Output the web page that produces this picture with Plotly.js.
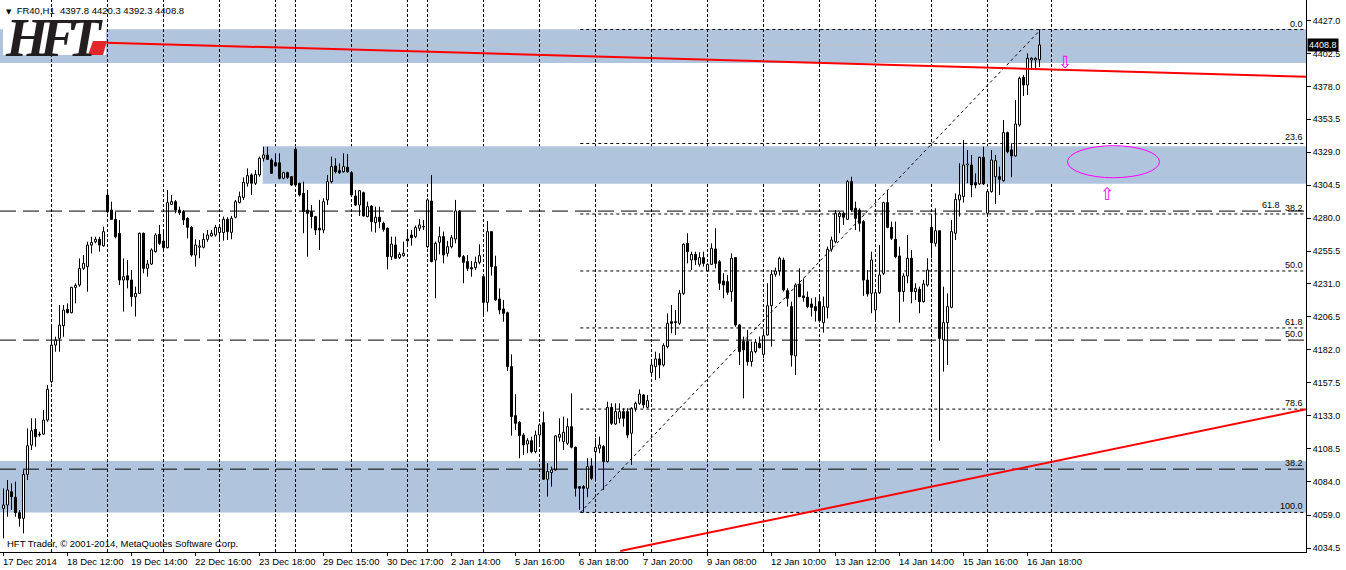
<!DOCTYPE html>
<html><head><meta charset="utf-8">
<script src="https://cdn.plot.ly/plotly-3.0.1.min.js"></script>
<style>html,body{margin:0;padding:0;background:#fff;overflow:hidden}#chart{width:1346px;height:570px}</style>
</head><body><div id="chart"></div>
<script>
// ---------- DATA (FR40, H1) ----------
const symbol = "FR40,H1";
const open = [
4064.0,4066.5,4076.4,4072.2,4060.8,4056.6,4089.3,4111.1,4122.8,4119.3,
4119.3,4129.7,4158.3,4185.5,4190.5,4199.9,4212.1,4209.6,4228.4,4230.2,
4242.6,4243.8,4259.9,4262.4,4264.2,4259.4,4297.1,4286.0,4279.0,4268.6,
4233.9,4237.1,4233.9,4221.5,4224.0,4268.7,4242.6,4245.8,4255.0,4267.9,
4262.9,4258.0,4290.2,4292.2,4286.0,4284.8,4279.8,4273.1,4252.5,4258.3,
4258.3,4264.2,4266.7,4267.4,4269.2,4269.2,4279.1,4269.4,4280.6,4291.5,
4295.4,4305.9,4312.1,4305.9,4312.1,4324.5,4326.9,4323.2,4321.2,4321.2,
4309.6,4313.8,4310.8,4331.2,4305.9,4298.4,4286.0,4284.8,4281.1,4272.4,
4271.1,4293.5,4307.1,4318.8,4315.3,4314.5,4317.8,4313.8,4296.4,4289.7,
4298.9,4281.1,4289.0,4276.6,4280.6,4276.1,4272.4,4251.3,4260.0,4250.6,
4252.0,4264.4,4267.4,4266.2,4272.4,4273.4,4258.7,4292.7,4248.8,4262.0,
4266.2,4253.8,4258.7,4264.4,4285.3,4251.3,4247.6,4243.1,4243.1,4247.1,
4236.4,4217.3,4269.9,4243.9,4219.8,4212.4,4209.6,4169.5,4133.0,4128.0,
4118.6,4111.9,4114.4,4106.2,4118.6,4127.8,4085.7,4090.6,4092.6,4116.9,
4113.7,4112.4,4124.8,4109.5,4080.2,4080.2,4079.0,4095.6,4106.2,4108.7,
4110.0,4098.8,4139.2,4126.8,4131.0,4136.0,4136.0,4119.9,4138.5,4142.2,
4148.4,4139.2,4165.2,4169.5,4175.2,4170.7,4184.3,4202.9,4202.2,4201.7,
4224.0,4261.2,4248.8,4253.0,4245.6,4250.6,4240.6,4245.6,4257.0,4247.6,
4233.2,4232.7,4225.3,4250.6,4200.5,4188.1,4188.1,4173.2,4180.6,4186.8,
4178.6,4193.0,4214.8,4238.2,4240.6,4248.8,4226.0,4214.1,4177.4,4231.0,
4222.1,4221.1,4216.1,4214.1,4217.8,4202.2,4213.6,4256.8,4262.4,4281.1,
4283.6,4279.1,4307.1,4287.3,4286.0,4277.4,4233.9,4224.0,4211.6,4224.5,
4238.9,4291.5,4273.1,4264.2,4251.8,4225.3,4236.9,4250.1,4225.3,4227.0,
4217.8,4230.2,4273.1,4261.2,4270.6,4189.3,4202.2,4213.6,4268.7,4293.5,
4296.0,4319.5,4319.5,4306.4,4305.4,4325.2,4283.6,4299.7,4310.8,4310.8,
4307.8,4343.6,4330.7,4326.2,4349.3,4384.7,4379.0,4397.6,4397.6,4397.8];
const high = [
4078.9,4085.1,4082.6,4083.9,4062.8,4092.5,4123.5,4131.0,4131.0,4121.1,
4137.2,4155.8,4199.2,4191.7,4215.3,4215.3,4216.5,4228.9,4231.4,4250.0,
4252.5,4262.4,4266.1,4266.1,4266.1,4273.6,4300.0,4292.2,4284.7,4278.5,
4250.0,4248.8,4241.3,4229.0,4269.2,4269.2,4248.8,4257.5,4268.7,4274.9,
4271.1,4300.9,4297.2,4293.5,4288.5,4286.0,4280.6,4274.1,4264.2,4263.7,
4268.7,4271.1,4271.1,4274.9,4274.9,4281.1,4280.6,4281.6,4293.5,4299.7,
4310.3,4317.0,4313.3,4315.8,4325.7,4333.1,4333.1,4324.5,4328.2,4328.2,
4314.5,4314.5,4311.3,4333.1,4306.4,4307.1,4300.9,4289.7,4281.6,4293.5,
4294.7,4312.1,4325.7,4324.5,4320.7,4328.2,4327.7,4315.0,4300.9,4300.9,
4299.7,4292.2,4289.7,4288.5,4288.5,4277.3,4273.1,4266.2,4266.2,4254.5,
4262.5,4271.1,4271.1,4274.4,4279.3,4278.6,4294.7,4312.1,4262.5,4273.6,
4269.9,4263.0,4267.4,4293.5,4286.0,4252.5,4252.5,4248.1,4251.3,4260.5,
4237.7,4277.8,4270.4,4252.0,4227.7,4219.1,4210.4,4178.6,4148.9,4129.0,
4119.9,4116.2,4117.4,4121.9,4127.3,4136.0,4097.6,4095.1,4118.6,4131.0,
4132.3,4131.0,4149.6,4110.0,4080.2,4081.4,4101.3,4101.3,4116.2,4117.4,
4111.2,4143.4,4142.2,4142.2,4142.2,4138.5,4138.5,4139.2,4143.4,4152.6,
4149.1,4148.4,4173.2,4180.6,4179.4,4186.8,4209.1,4215.3,4211.6,4226.5,
4261.2,4268.7,4255.0,4255.0,4254.5,4255.0,4246.3,4261.2,4272.4,4248.8,
4238.9,4237.7,4253.8,4250.6,4201.0,4191.8,4196.7,4188.1,4190.0,4191.8,
4196.7,4231.5,4241.4,4243.1,4251.3,4250.6,4227.8,4217.8,4231.5,4242.6,
4235.2,4225.3,4220.3,4221.1,4221.6,4221.6,4258.8,4266.2,4286.0,4284.8,
4284.8,4308.3,4310.8,4292.2,4287.3,4278.6,4241.4,4255.0,4226.5,4260.0,
4292.2,4300.9,4277.4,4277.4,4258.8,4238.9,4267.4,4256.3,4231.5,4229.0,
4234.0,4250.1,4281.1,4287.3,4270.6,4229.0,4224.0,4278.6,4298.4,4320.8,
4338.1,4330.7,4327.0,4313.3,4325.7,4333.1,4300.9,4330.7,4327.0,4318.3,
4352.9,4344.3,4335.6,4367.9,4385.3,4386.5,4402.6,4399.6,4399.6,4420.3];
const low = [
4041.7,4057.8,4062.8,4057.8,4050.4,4045.4,4085.1,4107.4,4109.9,4117.3,
4118.6,4128.5,4157.0,4180.6,4180.6,4191.7,4209.1,4209.1,4216.5,4228.9,
4241.3,4225.2,4253.7,4261.2,4255.0,4258.7,4283.5,4278.5,4264.9,4230.2,
4210.4,4227.7,4214.1,4206.7,4223.5,4238.9,4236.4,4245.1,4254.3,4260.0,
4256.3,4257.5,4289.7,4283.5,4282.3,4274.9,4264.9,4251.3,4243.9,4250.1,
4257.5,4262.4,4266.2,4266.2,4263.7,4263.2,4263.7,4264.2,4279.8,4291.0,
4293.5,4303.4,4297.2,4304.6,4310.8,4322.0,4323.2,4312.8,4318.3,4308.8,
4308.8,4309.1,4303.9,4303.4,4296.0,4268.7,4251.3,4272.4,4267.4,4256.3,
4268.7,4289.7,4305.9,4313.3,4312.8,4313.8,4313.8,4296.4,4289.0,4281.6,
4281.1,4280.6,4269.9,4269.2,4272.4,4269.9,4241.9,4248.8,4249.6,4249.6,
4251.3,4260.0,4259.5,4265.0,4270.4,4271.1,4257.5,4247.1,4220.3,4253.0,
4246.3,4251.3,4257.5,4261.2,4250.6,4231.5,4240.6,4236.4,4241.4,4245.6,
4206.7,4210.4,4237.2,4218.3,4208.4,4202.9,4166.2,4118.1,4122.3,4101.3,
4103.7,4105.0,4105.0,4105.0,4110.0,4085.2,4072.8,4080.2,4092.1,4113.7,
4107.5,4111.2,4108.7,4072.8,4062.8,4061.0,4072.3,4085.2,4085.2,4105.0,
4077.7,4098.1,4126.1,4126.1,4127.3,4124.8,4116.2,4096.3,4136.0,4141.0,
4138.5,4138.5,4163.3,4159.5,4160.8,4169.5,4183.1,4194.3,4193.0,4200.5,
4222.8,4246.3,4241.4,4245.1,4243.9,4243.9,4240.1,4245.1,4242.6,4226.5,
4220.3,4222.8,4217.8,4199.2,4170.7,4145.9,4170.2,4169.5,4179.4,4183.1,
4175.7,4192.5,4184.3,4236.4,4237.2,4225.3,4214.1,4169.5,4163.3,4221.1,
4217.8,4212.9,4206.7,4203.0,4202.2,4194.8,4205.4,4255.0,4261.2,4268.7,
4274.9,4278.6,4284.8,4271.1,4269.9,4222.1,4221.6,4209.2,4203.7,4223.5,
4237.7,4272.4,4263.7,4250.1,4202.2,4217.8,4231.5,4216.6,4219.1,4209.2,
4217.1,4229.0,4250.1,4258.8,4114.4,4165.7,4170.7,4212.9,4263.7,4281.1,
4291.5,4305.9,4295.5,4302.2,4304.6,4304.6,4282.3,4298.9,4290.5,4297.2,
4307.1,4328.2,4310.3,4325.7,4348.0,4370.8,4371.6,4390.2,4390.7,4392.3];
const close = [
4066.5,4077.7,4072.7,4060.8,4056.6,4089.3,4110.6,4121.8,4117.3,4118.6,
4129.7,4152.6,4185.5,4189.3,4200.4,4211.6,4209.6,4228.4,4229.9,4242.6,
4246.3,4259.9,4261.9,4264.2,4259.9,4269.9,4284.7,4279.0,4266.1,4233.9,
4236.4,4233.9,4221.5,4224.0,4268.7,4242.6,4245.8,4256.3,4267.4,4261.2,
4258.0,4291.5,4292.2,4286.0,4284.0,4278.6,4273.1,4252.5,4260.0,4259.3,
4264.2,4267.4,4268.7,4273.1,4273.1,4279.1,4269.9,4279.8,4292.2,4295.9,
4306.6,4311.6,4305.9,4312.5,4324.5,4327.0,4323.7,4313.3,4318.8,4309.6,
4313.8,4310.3,4304.6,4304.6,4297.2,4284.8,4283.5,4281.1,4271.1,4271.1,
4292.2,4307.1,4318.3,4314.5,4313.8,4318.3,4314.5,4297.2,4289.7,4300.4,
4281.6,4288.5,4277.3,4280.6,4277.3,4271.6,4251.3,4260.7,4250.1,4253.0,
4253.8,4263.0,4265.4,4272.9,4274.9,4273.7,4293.5,4247.6,4261.2,4266.2,
4252.5,4258.7,4265.4,4285.3,4251.3,4247.1,4242.6,4242.1,4247.1,4252.0,
4217.3,4269.9,4243.9,4219.1,4211.6,4209.1,4169.5,4132.3,4127.3,4118.1,
4111.2,4114.4,4106.2,4118.6,4126.1,4085.7,4091.4,4092.6,4117.9,4119.1,
4120.6,4124.8,4109.5,4079.0,4079.0,4079.0,4095.1,4086.4,4109.5,4111.2,
4098.8,4139.2,4127.3,4136.0,4136.0,4131.0,4118.6,4138.5,4142.2,4149.1,
4141.0,4144.2,4170.7,4175.2,4170.7,4185.1,4201.7,4201.7,4203.0,4224.0,
4260.5,4255.0,4253.0,4248.8,4250.6,4246.3,4245.6,4257.5,4246.3,4231.5,
4230.2,4224.8,4250.1,4200.5,4180.6,4181.9,4173.2,4180.6,4187.6,4183.6,
4192.5,4214.8,4238.2,4240.6,4250.1,4226.5,4220.3,4178.1,4230.2,4221.6,
4220.8,4214.1,4213.6,4211.1,4203.7,4214.1,4256.8,4263.7,4283.6,4283.6,
4280.6,4307.1,4286.0,4279.8,4276.1,4233.9,4223.5,4248.8,4224.5,4237.7,
4291.5,4273.1,4265.0,4251.3,4225.3,4236.9,4250.1,4225.3,4227.8,4217.8,
4231.0,4241.4,4261.7,4270.6,4190.5,4202.2,4214.1,4269.9,4293.9,4297.2,
4319.5,4320.3,4304.6,4304.6,4325.2,4305.4,4299.7,4323.2,4322.7,4308.8,
4343.6,4329.4,4326.2,4350.0,4384.0,4379.0,4398.9,4398.9,4398.9,4408.8];

// time scale labels and the bar each one belongs to
const timeLabels = ["17 Dec 2014","18 Dec 12:00","19 Dec 14:00","22 Dec 16:00","23 Dec 18:00","29 Dec 15:00","30 Dec 17:00","2 Jan 14:00","5 Jan 16:00","6 Jan 18:00","7 Jan 20:00","9 Jan 08:00","12 Jan 10:00","13 Jan 12:00","14 Jan 14:00","15 Jan 16:00","16 Jan 18:00"];
const timeLabelBars = [0,16,32,48,64,80,96,112,128,144,160,176,192,208,224,240,256];
// first bar of each trading day (period separators)
const daySeparatorBars = [12,26,40,54,68,73,87,101,106,120,134,148,162,176,190,204,218,232,246,262];
// price scale
const priceTicks = [4034.5,4059.0,4084.0,4108.5,4133.0,4157.5,4182.0,4206.5,4231.0,4255.5,4280.0,4304.5,4329.0,4353.5,4378.0,4402.5,4427.0];

// Fibonacci retracement #1 (6 Jan low -> 16 Jan high)
const fib1Low = 4061.0, fib1High = 4420.3;
const fib1StartBar = 144.2, fib1EndBar = 259.3;
const fib1Levels = [0, 23.6, 38.2, 50.0, 61.8, 78.6, 100.0];
// Fibonacci retracement #2 (only three levels visible)
const fib2Levels = [61.8, 50.0, 38.2];
const fib2Prices = [4285.2, 4189.2, 4093.2];

// zones (top price, bottom price, first bar; null = from left edge)
const zoneTop = [4420.5, 4333.4, 4099.3];
const zoneBottom = [4395.4, 4305.6, 4061.0];
const zoneStartBar = [null, 64.8, null];

// trend lines [bar1, price1, bar2, price2]
const trendUpper = [25.7, 4410.5, 325.6, 4385.2];
const trendLower = [154.2, 4032.3, 325.6, 4137.7];

// marked target zone and arrows
const ellipseBars = [266, 289], ellipsePrices = [4310.0, 4333.85];
const arrowDown = [265.4, 4396.3], arrowUp = [275.85, 4297.9];

// ---------- CHART ----------
const W = 1346, H = 570, ML = 0, MR = 40, MT = 0, MB = 18;
const PW = W - ML - MR, PH = H - MT - MB;
const xRange = [-0.875, 325.625];
const yRange = [4031.56, 4442.25];
const px = v => v / PW;           // pixel -> paper x
const py = v => 1 - v / PH;       // pixel -> paper y
const FONT = 'Liberation Sans, Arial, sans-serif';

const idx = open.map((_, i) => i);
const wx = [], wy = [];
idx.forEach(i => {
  const top = Math.max(open[i], close[i]), bot = Math.min(open[i], close[i]);
  if (high[i] > top) { wx.push(i, i, null); wy.push(high[i], top, null); }
  if (low[i] < bot) { wx.push(i, i, null); wy.push(bot, low[i], null); }
});
const upIds = idx.filter(i => close[i] >= open[i]);
const dnIds = idx.filter(i => close[i] < open[i]);
function bodyTrace(ids, fill) {
  return {
    type: 'bar', x: ids,
    base: ids.map(i => Math.min(open[i], close[i])),
    y: ids.map(i => Math.max(Math.abs(close[i] - open[i]), 0.4)),
    width: 0.5,
    marker: { color: fill, line: { color: '#000', width: 1 } },
    hoverinfo: 'skip', showlegend: false
  };
}
const traces = [
  bodyTrace(upIds, '#ffffff'),
  bodyTrace(dnIds, '#000000'),
  { type: 'scatter', mode: 'lines', x: wx, y: wy, line: { color: '#000', width: 1 }, hoverinfo: 'skip', showlegend: false }
];

const shapes = [];
// zones
zoneTop.forEach((t, j) => {
  const s = zoneStartBar[j];
  shapes.push(s === null
    ? { type: 'rect', layer: 'below', xref: 'paper', x0: 0, x1: 1, yref: 'y', y0: zoneBottom[j], y1: t, fillcolor: '#b0c4de', line: { width: 0 } }
    : { type: 'rect', layer: 'below', xref: 'x', x0: s, x1: xRange[1] + 5, yref: 'y', y0: zoneBottom[j], y1: t, fillcolor: '#b0c4de', line: { width: 0 } });
});
// bid line
const last = close.length - 1;
shapes.push({ type: 'line', layer: 'below', xref: 'paper', x0: 0, x1: 1, yref: 'y', y0: close[last], y1: close[last], line: { color: '#c0c0c0', width: 1 } });
// period separators
daySeparatorBars.forEach(b => shapes.push({ type: 'line', layer: 'below', xref: 'x', x0: b, x1: b, yref: 'paper', y0: 0, y1: 1, line: { color: '#000', width: 1, dash: '3px,2px' } }));
// logo background
shapes.push({ type: 'rect', layer: 'below', xref: 'paper', yref: 'paper', x0: px(3), x1: px(106), y0: py(55), y1: py(17), fillcolor: '#ffffff', line: { width: 0 } });
// fib #2 long dashes
fib2Prices.forEach(p => shapes.push({ type: 'line', layer: 'above', xref: 'paper', x0: 0, x1: 1, yref: 'y', y0: p, y1: p, line: { color: '#000', width: 1, dash: '16px,7px' } }));
// fib #1 levels
const fib1Price = l => fib1High - (fib1High - fib1Low) * l / 100;
fib1Levels.forEach(l => shapes.push({ type: 'line', layer: 'above', xref: 'x', x0: fib1StartBar, x1: xRange[1] + 5, yref: 'y', y0: fib1Price(l), y1: fib1Price(l), line: { color: '#000', width: 1, dash: '3px,3px' } }));
shapes.push({ type: 'line', layer: 'above', xref: 'x', yref: 'y', x0: fib1StartBar, y0: fib1Low, x1: fib1EndBar, y1: fib1High, line: { color: '#000', width: 1, dash: '3px,3px' } });
// trend lines
[trendUpper, trendLower].forEach(t => shapes.push({ type: 'line', layer: 'above', xref: 'x', yref: 'y', x0: t[0], y0: t[1], x1: t[2], y1: t[3], line: { color: '#ff0000', width: 2 } }));
// ellipse
shapes.push({ type: 'circle', layer: 'above', xref: 'x', yref: 'y', x0: ellipseBars[0], x1: ellipseBars[1], y0: ellipsePrices[0], y1: ellipsePrices[1], line: { color: '#ff00ff', width: 1 } });
// logo red block
shapes.push({ type: 'path', layer: 'above', xref: 'paper', yref: 'paper',
  path: `M ${px(93)} ${py(41)} L ${px(107)} ${py(41)} L ${px(103)} ${py(55)} L ${px(88)} ${py(55)} Z`,
  fillcolor: '#e3262a', line: { width: 0 } });

const annotations = [];
// header line + logo in one left-aligned text block (line spacing = 1.3 x base size)
const headerText = `${symbol}&nbsp;&nbsp;${open[last].toFixed(1)} ${high[last].toFixed(1)} ${low[last].toFixed(1)} ${close[last].toFixed(1)}`;
annotations.push({ xref: 'paper', yref: 'paper', x: 0, y: 1, xanchor: 'left', yanchor: 'top', align: 'left', xshift: 4, yshift: -4, showarrow: false, borderpad: 0,
  text: `<span style="font-family:DejaVu Sans;font-size:7px">▼</span><span style="font-size:9.5px">&nbsp;&nbsp;${headerText}</span><br>` +
        `<span style="font-family:Liberation Serif;font-size:54px;font-weight:bold;font-style:italic;letter-spacing:-8px;fill:#231f20">HFT</span>`,
  font: { family: FONT, size: 32.3, color: '#000' } });
// copyright
annotations.push({ xref: 'paper', yref: 'paper', x: 0, y: 0, xanchor: 'left', yanchor: 'bottom', xshift: 5, yshift: 1, showarrow: false,
  text: 'HFT Trader, © 2001-2014, MetaQuotes Software Corp.', font: { family: FONT, size: 9.5, color: '#000' } });
// time labels
timeLabels.forEach((t, j) => annotations.push({ xref: 'x', yref: 'paper', x: timeLabelBars[j], y: 0, xanchor: 'left', yanchor: 'top', xshift: -3, yshift: -2, showarrow: false, text: t, font: { family: FONT, size: 9.5, color: '#000' } }));
// fib labels
fib1Levels.forEach(l => annotations.push({ xref: 'paper', yref: 'y', x: 1, y: fib1Price(l), xanchor: 'right', yanchor: 'bottom', xshift: -1, yshift: -1, showarrow: false, text: l.toFixed(1), font: { family: FONT, size: 9, color: '#000' } }));
fib2Levels.forEach((l, j) => annotations.push({ xref: 'paper', yref: 'y', x: 1, y: fib2Prices[j], xanchor: 'right', yanchor: 'bottom', xshift: j === 0 ? -24 : -1, yshift: -1, showarrow: false, text: l.toFixed(1), font: { family: FONT, size: 9, color: '#000' } }));
// arrows
annotations.push({ xref: 'x', yref: 'y', x: arrowDown[0], y: arrowDown[1], showarrow: false, text: '⇩', font: { family: 'DejaVu Sans', size: 17, color: '#ff00ff' } });
annotations.push({ xref: 'x', yref: 'y', x: arrowUp[0], y: arrowUp[1], showarrow: false, text: '⇧', font: { family: 'DejaVu Sans', size: 17, color: '#ff00ff' } });
// current price box
annotations.push({ xref: 'paper', yref: 'y', x: 1, y: close[last], xanchor: 'left', yanchor: 'middle', xshift: 1, showarrow: false, text: close[last].toFixed(1), bgcolor: '#000', borderpad: 1, font: { family: FONT, size: 9, color: '#fff' } });

const layout = {
  width: W, height: H,
  margin: { l: ML, r: MR, t: MT, b: MB, pad: 0 },
  paper_bgcolor: '#ffffff', plot_bgcolor: '#ffffff',
  showlegend: false, barmode: 'overlay', bargap: 0, hovermode: false,
  xaxis: { range: xRange, showgrid: false, zeroline: false, showline: true, linecolor: '#000', linewidth: 1,
    ticks: 'outside', ticklen: 3, tickcolor: '#000', tickvals: timeLabelBars, showticklabels: false, fixedrange: true },
  yaxis: { range: yRange, side: 'right', showgrid: false, zeroline: false, showline: true, linecolor: '#000', linewidth: 1,
    ticks: 'outside', ticklen: 4, tickcolor: '#000', tickvals: priceTicks, ticktext: priceTicks.map(v => v.toFixed(1)),
    tickfont: { family: FONT, size: 9, color: '#000' }, fixedrange: true },
  shapes, annotations
};
Plotly.newPlot('chart', traces, layout, { staticPlot: true, displayModeBar: false });
</script></body></html>
